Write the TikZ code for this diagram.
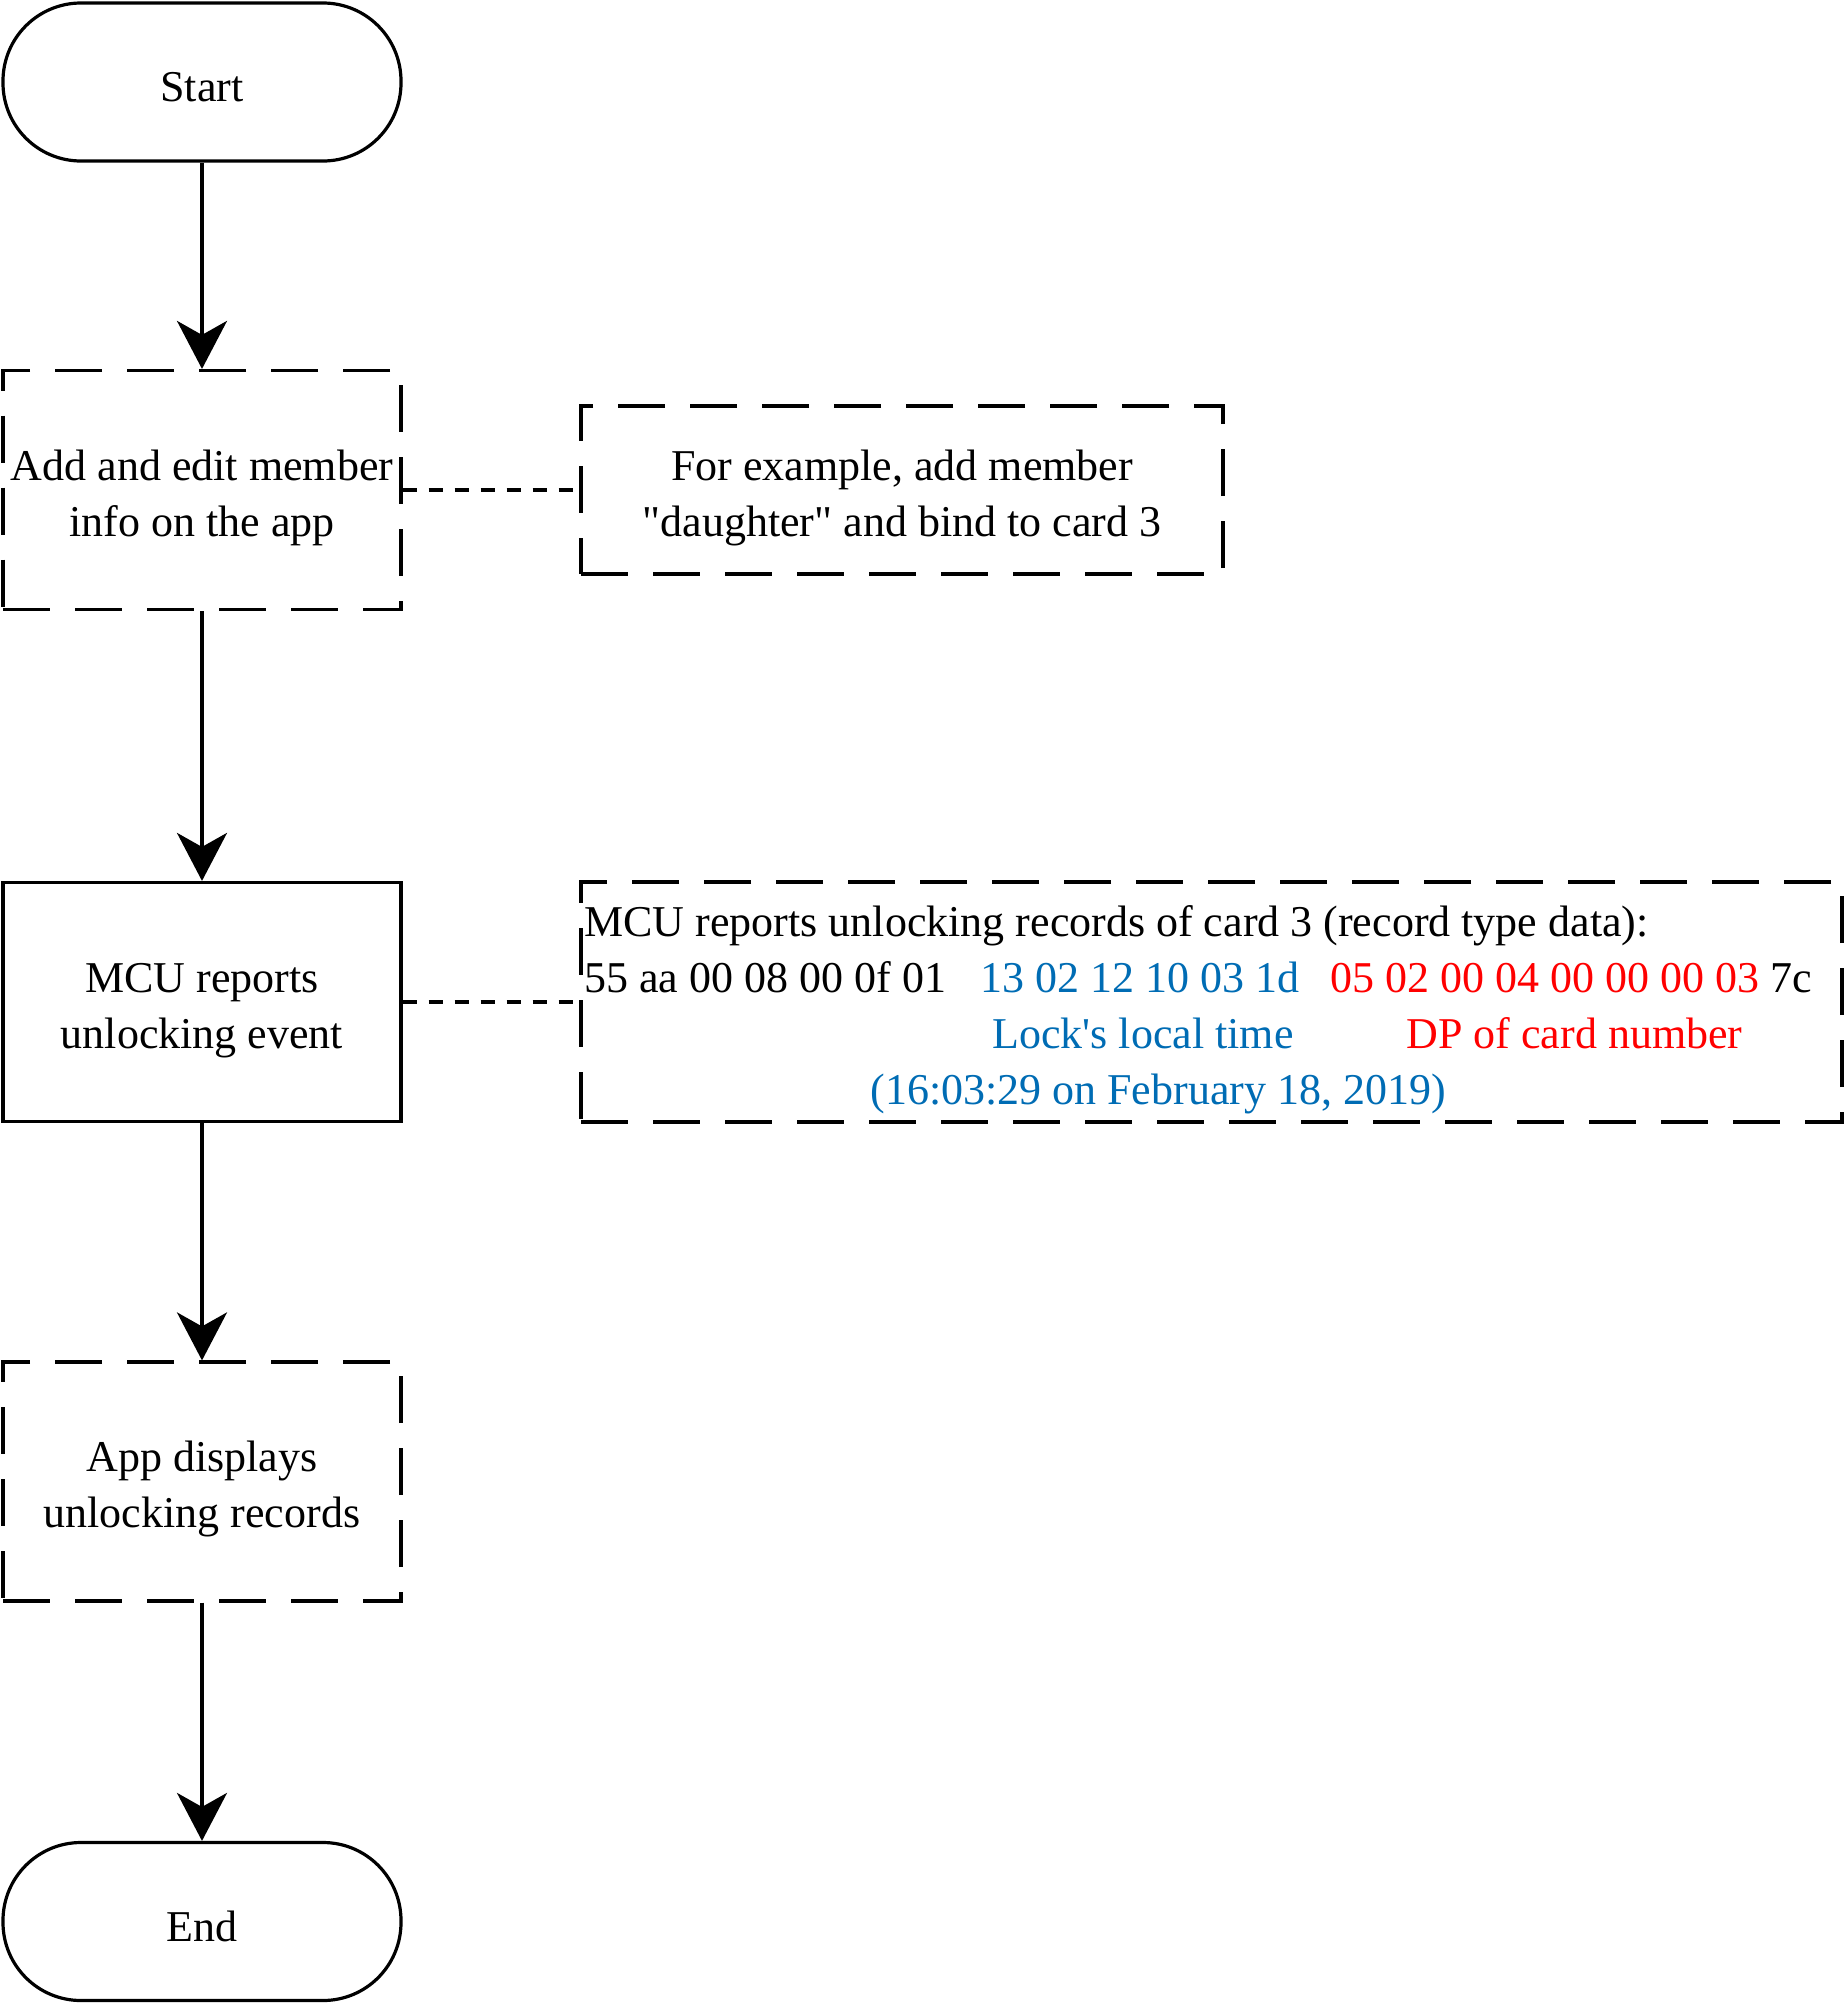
\documentclass[tikz,border=0pt]{standalone}
\usepackage{fontspec}
\setmainfont{Liberation Serif}[Ligatures=TeXOff]
\usetikzlibrary{arrows.meta,positioning}

\definecolor{timeblue}{RGB}{0,108,180}
\definecolor{cardred}{RGB}{255,0,0}

% lifts the top of a box's first line, so two-line texts sit a bit lower
\newcommand{\firstline}{\rule{0pt}{23pt}}

\tikzset{
  boxbase/.style={draw, line width=1.6pt, align=center, inner sep=0pt,
    font=\fontsize{22}{28}\selectfont},
  term/.style={boxbase, execute at begin node={\rule{0pt}{20pt}}, rounded corners=39pt,
    minimum width=199pt, minimum height=79pt},
  proc/.style={boxbase, minimum width=199pt, minimum height=119.5pt},
  dashbox/.style={dash pattern=on 23.5pt off 12.5pt},
  flow/.style={line width=1.6pt, -{Stealth[length=24pt,width=25pt,inset=7pt]}},
  note/.style={line width=1.6pt, dash pattern=on 7pt off 6pt},
  rec/.style={anchor=base west, inner sep=0pt, font=\fontsize{22}{28}\selectfont}
}

\begin{document}
\begin{tikzpicture}[x=1pt,y=-1pt]
   \useasboundingbox (0,0) rectangle (922,1002);
   % main flow
   \node[term] (start) at (101,41) {Start};
   \node[proc, dashbox] (addinfo) at (101,245) {\firstline Add and edit member\\info on the app};
   \node[proc] (mcu) at (101,501) {\firstline MCU reports\\unlocking event};
   \node[proc, dashbox] (appshow) at (101,740.75) {\firstline App displays\\unlocking records};
   \node[term] (finish) at (101,960.75) {End};
   % notes
   \node[boxbase, dashbox, minimum width=321pt, minimum height=84pt] (example) at (451,245)
      {\firstline For example, add member\\"daughter" and bind to card 3};
   \node[boxbase, dashbox, minimum width=630.5pt, minimum height=120pt] (record) at (605.75,501) {};
         \node[rec] (rechead) at (292,468) {MCU reports unlocking records of card 3 (record type data):};
         \node[rec] (recpre) at (292,496) {55 aa 00 08 00 0f 01};
         \node[rec, timeblue] (rectime) at (490,496) {13 02 12 10 03 1d};
         \node[rec, cardred] (reccard) at (665,496) {05 02 00 04 00 00 00 03};
         \node[rec] (recsum) at (885,496) {7c};
         \node[rec, timeblue] (timelbl) at (496,524) {Lock's local time};
         \node[rec, cardred] (cardlbl) at (703,524) {DP of card number};
         \node[rec, timeblue] (datelbl) at (435,552) {(16:03:29 on February 18, 2019)};
   % connectors
   \draw[flow] (start) -- (addinfo);
   \draw[flow] (addinfo) -- (mcu);
   \draw[flow] (mcu) -- (appshow);
   \draw[flow] (appshow) -- (finish);
   \draw[note] (addinfo) -- (example);
   \draw[note] (mcu) -- (record);
\end{tikzpicture}
\end{document}
